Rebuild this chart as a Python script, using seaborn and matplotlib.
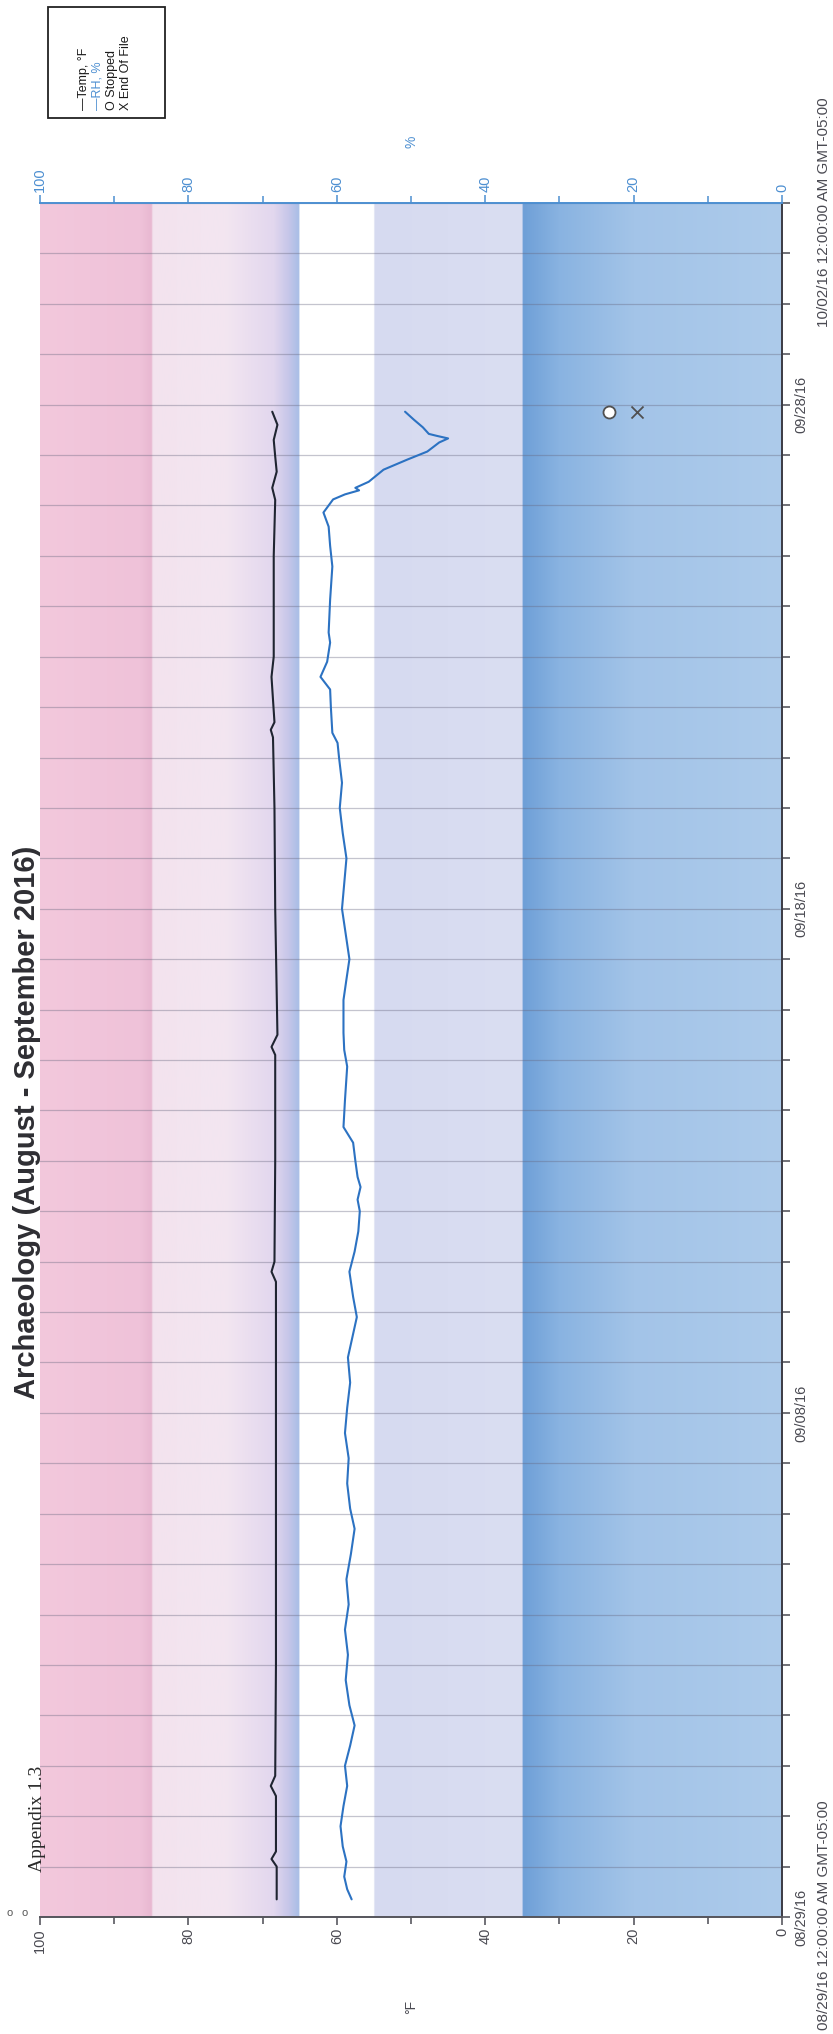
import numpy as np
import pandas as pd
import matplotlib
matplotlib.use("Agg")
import matplotlib.pyplot as plt
import matplotlib.dates as mdates
from matplotlib.ticker import MultipleLocator, FixedLocator
from matplotlib.colors import to_rgb
from matplotlib.patches import Rectangle
import seaborn as sns

sns.set_theme(style="white")
plt.rcParams["font.family"] = ["Liberation Sans", "DejaVu Sans"]

# ---- logger data -------------------------------------------------------
START = pd.Timestamp("2016-08-29 00:00")
END = pd.Timestamp("2016-10-02 00:00")

# days elapsed since 08/29/16 00:00 and temperature in °F
temp_days = [0.35, 1.0, 1.15, 1.3, 2.4, 2.6, 2.8, 5.0, 8.0, 10.0, 12.6, 12.8,
             13.0, 15.0, 17.1, 17.26, 17.5, 20.0, 22.0, 23.4, 23.55, 23.7,
             24.6, 25.0, 27.0, 28.11, 28.35, 28.67, 28.97, 29.30, 29.60, 29.86]
temp_f = [68.1, 68.1, 68.8, 68.2, 68.2, 68.9, 68.3, 68.2, 68.2, 68.2, 68.2, 68.8,
          68.4, 68.3, 68.3, 68.8, 68.0, 68.3, 68.4, 68.6, 68.9, 68.4,
          68.8, 68.5, 68.5, 68.3, 68.7, 68.1, 68.3, 68.5, 68.0, 68.7]

# days elapsed and relative humidity in %
rh_days = [0.35, 0.55, 0.8, 1.1, 1.4, 1.8, 2.2, 2.6, 3.0, 3.4, 3.8, 4.2, 4.7,
           5.2, 5.7, 6.2, 6.7, 7.2, 7.7, 8.1, 8.6, 9.1, 9.6, 10.1, 10.6, 11.1,
           11.5, 11.9, 12.3, 12.8, 13.2, 13.6, 14.0, 14.23, 14.48, 14.68, 15.0,
           15.36, 15.67, 16.2, 16.87, 17.2, 17.54, 18.19, 18.6, 19.0, 19.5,
           20.0, 20.5, 21.0, 21.5, 22.0, 22.5, 23.0, 23.29, 23.49, 24.0, 24.35,
           24.6, 24.9, 25.28, 25.48, 26.13, 26.79, 27.2, 27.58, 27.86, 28.12,
           28.22, 28.30, 28.35, 28.47, 28.71, 28.91, 29.07, 29.25, 29.33, 29.38,
           29.42, 29.55, 29.70, 29.86]
rh_pct = [58.0, 58.6, 59.0, 58.7, 59.2, 59.5, 59.1, 58.6, 58.9, 58.2, 57.6, 58.3, 58.8,
          58.5, 58.9, 58.4, 58.7, 58.1, 57.6, 58.2, 58.6, 58.4, 58.9, 58.6, 58.2, 58.5,
          57.9, 57.3, 57.8, 58.3, 57.6, 57.1, 56.9, 57.2, 56.8, 57.2, 57.5,
          57.8, 59.1, 58.9, 58.6, 59.0, 59.1, 59.1, 58.7, 58.3, 58.8,
          59.3, 59.0, 58.7, 59.2, 59.6, 59.3, 59.7, 59.9, 60.6, 60.8, 60.9,
          62.2, 61.3, 60.9, 61.1, 60.9, 60.6, 60.9, 61.1, 61.8, 60.5,
          58.9, 57.0, 57.5, 55.7, 53.7, 50.5, 47.8, 46.2, 45.0, 46.5,
          47.6, 48.4, 49.6, 50.8]

# logger events at the end of the record
event_day = 29.86
stopped_value = 23.3
end_of_file_value = 19.5

major_dates = ["2016-08-29", "2016-09-08", "2016-09-18", "2016-09-28"]
value_range = (0, 100)

# ---- styling -----------------------------------------------------------
TEMP_COLOR = "#1f2431"
RH_COLOR = "#2c72c2"
AXIS_BLUE = "#4d8fd1"
GREY = "#4a4a52"
W, H = 833, 2034


def fx(px):
    return px / W


def fy(py):
    return 1 - py / H


# colour profile of the limit bands along the value axis
band_stops = [
    (0.0, "#adcbeb"), (20.0, "#a3c4e8"), (30.0, "#89b3e1"), (34.9, "#6e9fd7"),
    (35.0, "#dadef2"), (54.9, "#d6daf0"), (55.0, "#ffffff"), (65.0, "#ffffff"),
    (65.1, "#a8bee6"), (66.5, "#c6c6e9"), (68.5, "#e2d7ee"), (75.0, "#f3e6f1"),
    (84.8, "#f3e3ee"), (85.0, "#e8b8d1"), (86.5, "#efc2d9"), (100.0, "#f3c8dc"),
]

fig = plt.figure(figsize=(W / 100, H / 100), dpi=100)
ax = fig.add_axes([fx(40), fy(1917), fx(782) - fx(40), fy(203) - fy(1917)])

temp_df = pd.DataFrame({"time": START + pd.to_timedelta(temp_days, unit="D"),
                        "temp": temp_f})
rh_df = pd.DataFrame({"time": START + pd.to_timedelta(rh_days, unit="D"),
                      "rh": rh_pct})

sns.lineplot(data=temp_df, x="temp", y="time", orient="y", sort=False,
             estimator=None, color=TEMP_COLOR, lw=1.5, ax=ax, zorder=3)

# background bands
grid_v = np.linspace(value_range[0], value_range[1], 2001)
sv = [s[0] for s in band_stops]
rgb = np.array([to_rgb(s[1]) for s in band_stops])
band = np.stack([np.interp(grid_v, sv, rgb[:, k]) for k in range(3)], axis=-1)[None, :, :]
y0, y1 = mdates.date2num(START), mdates.date2num(END)
ax.imshow(band, extent=(value_range[0], value_range[1], y0, y1), aspect="auto",
          interpolation="bilinear", zorder=0)

# event markers
ev_time = START + pd.Timedelta(days=event_day)
ax.scatter([stopped_value], [ev_time], s=75, marker="o", facecolor="white",
           edgecolor="#505050", linewidth=1.3, zorder=4)
ax.scatter([end_of_file_value], [ev_time], s=75, marker="x", color="#505050",
           linewidth=1.3, zorder=4)

ax2 = ax.twiny()
sns.lineplot(data=rh_df, x="rh", y="time", orient="y", sort=False,
             estimator=None, color=RH_COLOR, lw=1.5, ax=ax2, zorder=3)

for a in (ax, ax2):
    a.set_xlim(value_range[1], value_range[0])
ax.set_ylim(START, END)

# value axes
ax.xaxis.set_major_locator(MultipleLocator(20))
ax.xaxis.set_minor_locator(MultipleLocator(10))
ax.tick_params(axis="x", which="both", direction="out", bottom=True, top=False,
               colors=GREY, labelrotation=90, labelsize=10.5, width=1.1, pad=2)
ax.tick_params(axis="x", which="major", length=6)
ax.tick_params(axis="x", which="minor", length=5)
ax2.xaxis.set_major_locator(MultipleLocator(20))
ax2.xaxis.set_minor_locator(MultipleLocator(10))
ax2.tick_params(axis="x", which="both", direction="out", top=True, bottom=False,
                colors=AXIS_BLUE, labelrotation=90, labelsize=10.5, width=1.1, pad=2)
ax2.tick_params(axis="x", which="major", length=6)
ax2.tick_params(axis="x", which="minor", length=5)

# time axis on the right
ax.yaxis.tick_right()
ax.yaxis.set_major_locator(FixedLocator(mdates.date2num(pd.to_datetime(major_dates))))
ax.yaxis.set_major_formatter(mdates.DateFormatter("%m/%d/%y"))
ax.yaxis.set_minor_locator(mdates.DayLocator())
ax.tick_params(axis="y", which="both", direction="out", right=True, left=False,
               length=6, width=1.1, colors=GREY, labelrotation=90, labelsize=10.5, pad=3)
for lbl in ax.get_yticklabels():
    lbl.set_va("center")

ax.grid(True, axis="y", which="both", color="#66667e", alpha=0.38, lw=0.9)
ax.grid(False, axis="x")
ax2.grid(False)

for side in ("left", "top"):
    ax.spines[side].set_visible(False)
ax.spines["right"].set_color("#3b3b44")
ax.spines["right"].set_linewidth(1.4)
ax.spines["bottom"].set_color("#55555c")
ax.spines["bottom"].set_linewidth(1.4)
for side in ("left", "right", "bottom"):
    ax2.spines[side].set_visible(False)
ax2.spines["top"].set_color(AXIS_BLUE)
ax2.spines["top"].set_linewidth(1.4)

ax.set_ylabel("")
ax.set_xlabel("°F", rotation=90, fontsize=10, color=GREY, labelpad=34)
ax2.set_ylabel("")
ax2.set_xlabel("%", rotation=90, fontsize=10, color=AXIS_BLUE, labelpad=16)

# full time stamps at both ends of the time axis
fig.text(fx(824), fy(2030), "08/29/16 12:00:00 AM GMT-05:00", rotation=90,
         ha="center", va="bottom", fontsize=11, color=GREY)
fig.text(fx(824), fy(97), "10/02/16 12:00:00 AM GMT-05:00", rotation=90,
         ha="center", va="top", fontsize=11, color=GREY)

# title and page note
fig.text(fx(27), fy(1122), "Archaeology (August - September 2016)",
         rotation=90, ha="center", va="center", fontsize=21, fontweight="bold",
         color="#2e2e33")
fig.text(fx(37), fy(1819), "Appendix 1.3", family=["Liberation Serif", "DejaVu Serif"],
         rotation=90, ha="center", va="center", fontsize=14, color="#2a2a2a")
for px in (10, 25):
    fig.text(fx(px), fy(1913), "o", ha="center", va="center", fontsize=8,
             color="#555555")

# legend box
fig.add_artist(Rectangle((fx(48), fy(118)), fx(165) - fx(48), fy(7) - fy(118),
                         transform=fig.transFigure, fill=False, edgecolor="#222222",
                         linewidth=1.3))
legend_items = [("\u2014Temp, °F", "#1a1a1a"), ("\u2014RH, %", AXIS_BLUE),
                ("O Stopped", "#1a1a1a"), ("X End Of File", "#1a1a1a")]
for i, (txt, col) in enumerate(legend_items):
    fig.text(fx(84 + 14 * i), fy(110), txt, rotation=90, ha="center",
             va="bottom", fontsize=9, color=col)

fig.savefig("out.png", dpi=100)
